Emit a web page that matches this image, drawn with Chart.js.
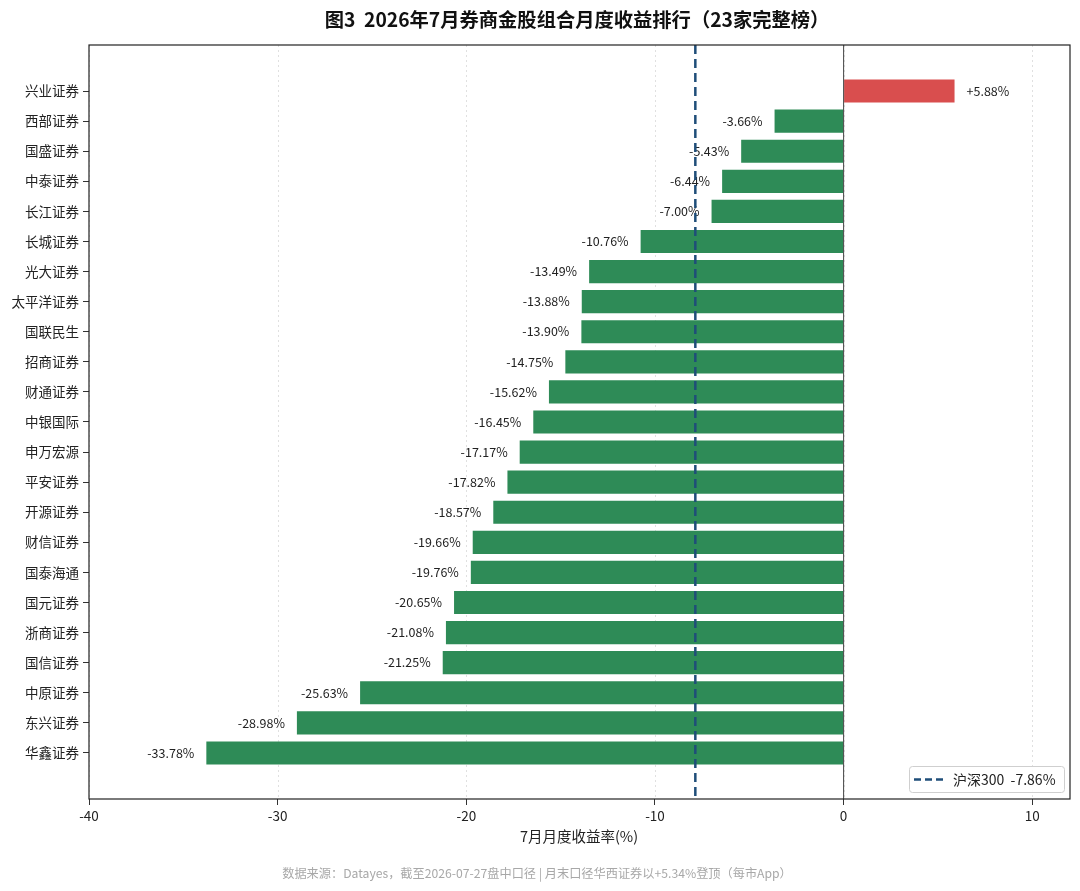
<!DOCTYPE html>
<html>
<head>
<meta charset="utf-8">
<script src="https://cdn.jsdelivr.net/npm/chart.js@4"></script>
<style>
html,body{margin:0;padding:0;background:#fff;}
canvas{display:block;}
</style>
</head>
<body>
<canvas id="c" width="1080" height="891"></canvas>
<script>
const categories = ['兴业证券','西部证券','国盛证券','中泰证券','长江证券','长城证券','光大证券','太平洋证券','国联民生','招商证券','财通证券','中银国际','申万宏源','平安证券','开源证券','财信证券','国泰海通','国元证券','浙商证券','国信证券','中原证券','东兴证券','华鑫证券'];
const values = [5.88,-3.66,-5.43,-6.44,-7.00,-10.76,-13.49,-13.88,-13.90,-14.75,-15.62,-16.45,-17.17,-17.82,-18.57,-19.66,-19.76,-20.65,-21.08,-21.25,-25.63,-28.98,-33.78];
const benchmarkValue = -7.86;
const benchmarkName = '沪深300';
const xTicks = [-40,-30,-20,-10,0,10];
const titleText = '图3  2026年7月券商金股组合月度收益排行（23家完整榜）';
const xAxisTitle = '7月月度收益率(%)';
const footerText = '数据来源：Datayes，截至2026-07-27盘中口径 | 月末口径华西证券以+5.34%登顶（每市App）';

const FONT = '"Noto Sans CJK SC","Noto Sans",sans-serif';
const GREEN = '#2e8b57';
const RED = '#d94e4e';
const BENCH = '#1f4e79';

function fmt(v){ return (v>0?'+':'') + v.toFixed(2) + '%'; }

const overlay = {
  id:'overlay',
  beforeDraw(chart){
    const c = chart.ctx;
    c.save(); c.fillStyle='#fff'; c.fillRect(0,0,chart.width,chart.height); c.restore();
  },
  beforeDatasetsDraw(chart){
    const c = chart.ctx, a = chart.chartArea, xs = chart.scales.x;
    c.save();
    c.strokeStyle='#d8d8d8'; c.lineWidth=0.8; c.setLineDash([2,3]);
    xTicks.forEach(t=>{
      const px = Math.round(xs.getPixelForValue(t))+0.5;
      c.beginPath(); c.moveTo(px,a.top); c.lineTo(px,a.bottom); c.stroke();
    });
    c.restore();
  },
  afterDatasetsDraw(chart){
    const c = chart.ctx, a = chart.chartArea, xs = chart.scales.x;
    const meta = chart.getDatasetMeta(0);
    c.save();
    // zero line
    const zx = xs.getPixelForValue(0);
    c.strokeStyle='#444'; c.lineWidth=1; c.setLineDash([]);
    c.beginPath(); c.moveTo(zx,a.top); c.lineTo(zx,a.bottom); c.stroke();
    // labels
    c.font = '12.5px '+FONT; c.fillStyle='#222'; c.textBaseline='middle';
    meta.data.forEach((el,i)=>{
      const v = values[i];
      if (v>=0){ c.textAlign='left'; c.fillText(fmt(v), el.x+12, el.y); }
      else { c.textAlign='right'; c.fillText(fmt(v), el.x-12, el.y); }
    });
    // benchmark line
    const bx = xs.getPixelForValue(benchmarkValue);
    c.strokeStyle=BENCH; c.lineWidth=2.5; c.setLineDash([9,5]);
    c.beginPath(); c.moveTo(bx,a.top); c.lineTo(bx,a.bottom); c.stroke();
    // frame
    c.setLineDash([]); c.strokeStyle='#222'; c.lineWidth=1.2;
    c.strokeRect(a.left,a.top,a.right-a.left,a.bottom-a.top);
    // legend
    const lx=909, ly=766, lw=155, lh=26;
    c.fillStyle='rgba(255,255,255,0.9)'; c.strokeStyle='#cfcfcf'; c.lineWidth=1;
    c.beginPath(); c.roundRect(lx+0.5,ly+0.5,lw,lh,3); c.fill(); c.stroke();
    c.strokeStyle=BENCH; c.lineWidth=2.5; c.setLineDash([7,4]);
    c.beginPath(); c.moveTo(lx+5,ly+13.5); c.lineTo(lx+34,ly+13.5); c.stroke();
    c.setLineDash([]);
    c.fillStyle='#222'; c.font='14px '+FONT; c.textAlign='left'; c.textBaseline='middle';
    c.fillText(benchmarkName+'  '+fmt(benchmarkValue), lx+44, ly+14);
    c.restore();
  },
  afterDraw(chart){
    const c = chart.ctx;
    c.save();
    c.textAlign='center'; c.textBaseline='middle';
    c.fillStyle='#111'; c.font='bold 19.3px '+FONT;
    c.fillText(titleText, 577, 20);
    c.fillStyle='#222'; c.font='14.5px '+FONT;
    c.fillText(xAxisTitle, 579, 836);
    c.fillStyle='#a8a8a8'; c.font='12.2px '+FONT;
    c.fillText(footerText, 537, 873);
    c.restore();
  }
};

new Chart(document.getElementById('c'), {
  type:'bar',
  data:{
    datasets:[{
      data: values.map((v,i)=>({x:v, y:i})),
      backgroundColor: values.map(v=> v>=0 ? RED : GREEN),
      borderWidth:0,
      barPercentage:0.77,
      categoryPercentage:1
    }]
  },
  options:{
    indexAxis:'y',
    responsive:false,
    animation:false,
    devicePixelRatio:1,
    layout:{padding:{left:0,top:45,right:10,bottom:0}},
    plugins:{legend:{display:false},tooltip:{enabled:false},title:{display:false}},
    scales:{
      x:{
        type:'linear', min:-40, max:12, offset:false,
        afterFit(s){ s.height = 92; },
        afterBuildTicks(s){ s.ticks = xTicks.map(v=>({value:v})); },
        ticks:{ font:{family:FONT,size:13.5}, color:'#222', padding:3, maxRotation:0 },
        grid:{ drawOnChartArea:false, drawTicks:true, tickLength:6, tickColor:'#333', offset:false },
        border:{display:false}
      },
      y:{
        type:'linear', reverse:true, min:-1.53, max:23.53, offset:false,
        afterFit(s){ s.width = 89; },
        afterBuildTicks(s){ s.ticks = categories.map((_,i)=>({value:i})); },
        ticks:{ font:{family:FONT,size:13.5}, color:'#222', padding:4, autoSkip:false,
          callback:(v)=>categories[v] },
        grid:{ drawOnChartArea:false, drawTicks:true, tickLength:6, tickColor:'#333', offset:false },
        border:{display:false}
      }
    }
  },
  plugins:[overlay]
});
</script>
</body>
</html>
